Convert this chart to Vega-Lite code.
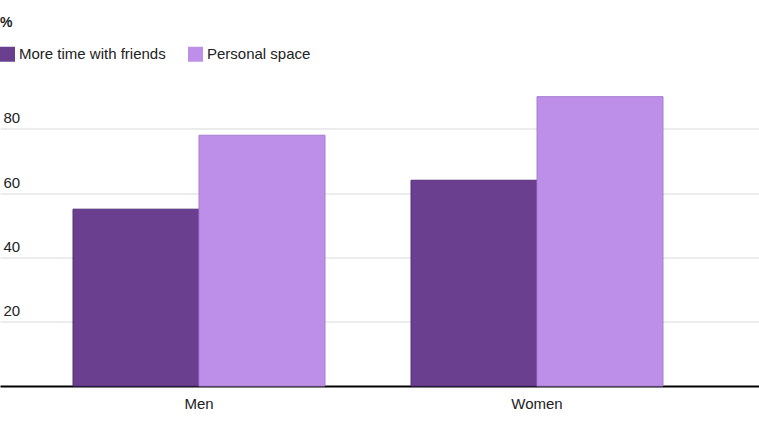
{
  "$schema": "https://vega.github.io/schema/vega-lite/v6.json",
  "width": 759,
  "height": 321.5,
  "autosize": "none",
  "padding": {"left": 0, "right": 0, "top": 64.5, "bottom": 48},
  "background": "white",
  "title": {"text": "%", "anchor": "start", "frame": "group", "font": "Liberation Sans", "fontSize": 14, "fontWeight": "bold", "color": "#222222", "offset": 3, "baseline": "bottom"},
  "data": {"values": [
    {"group": "Men", "series": "More time with friends", "value": 55},
    {"group": "Men", "series": "Personal space", "value": 78},
    {"group": "Women", "series": "More time with friends", "value": 64},
    {"group": "Women", "series": "Personal space", "value": 90}
  ]},
  "mark": {"type": "bar", "strokeWidth": 1},
  "encoding": {
    "x": {"field": "group", "type": "nominal", "sort": ["Men", "Women"],
      "scale": {"paddingInner": 0.2544, "paddingOuter": 0.25, "align": 0.432},
      "axis": {"title": null, "labelAngle": 0, "ticks": false, "labelPadding": 10, "labelFontSize": 15, "labelFont": "Liberation Sans", "labelColor": "#222222", "domainColor": "#000000", "domainWidth": 2, "grid": false}},
    "xOffset": {"field": "series", "type": "nominal", "sort": ["More time with friends", "Personal space"]},
    "y": {"field": "value", "type": "quantitative",
      "scale": {"domain": [0, 100], "nice": false},
      "axis": {"title": null, "values": [20, 40, 60, 80], "ticks": false, "domain": false, "labelAlign": "left", "labelBaseline": "bottom", "labelPadding": -3, "labelOffset": -3, "labelFontSize": 15, "labelFont": "Liberation Sans", "labelColor": "#222222", "gridColor": "#d9d9d9", "gridWidth": 1}},
    "fill": {"field": "series", "type": "nominal",
      "scale": {"domain": ["More time with friends", "Personal space"], "range": ["#6b3f8f", "#bd8fe8"]},
      "legend": {"title": null, "orient": "none", "legendX": 0, "legendY": -18, "direction": "horizontal", "symbolType": "square", "symbolSize": 225, "symbolStrokeWidth": 0, "symbolOpacity": 1, "labelFontSize": 15, "labelFont": "Liberation Sans", "labelColor": "#222222", "labelOffset": 4, "columnPadding": 22, "padding": 0}},
    "stroke": {"field": "series", "type": "nominal",
      "scale": {"domain": ["More time with friends", "Personal space"], "range": ["#55307a", "#a67fd0"]},
      "legend": null}
  },
  "config": {"view": {"stroke": null}}
}
